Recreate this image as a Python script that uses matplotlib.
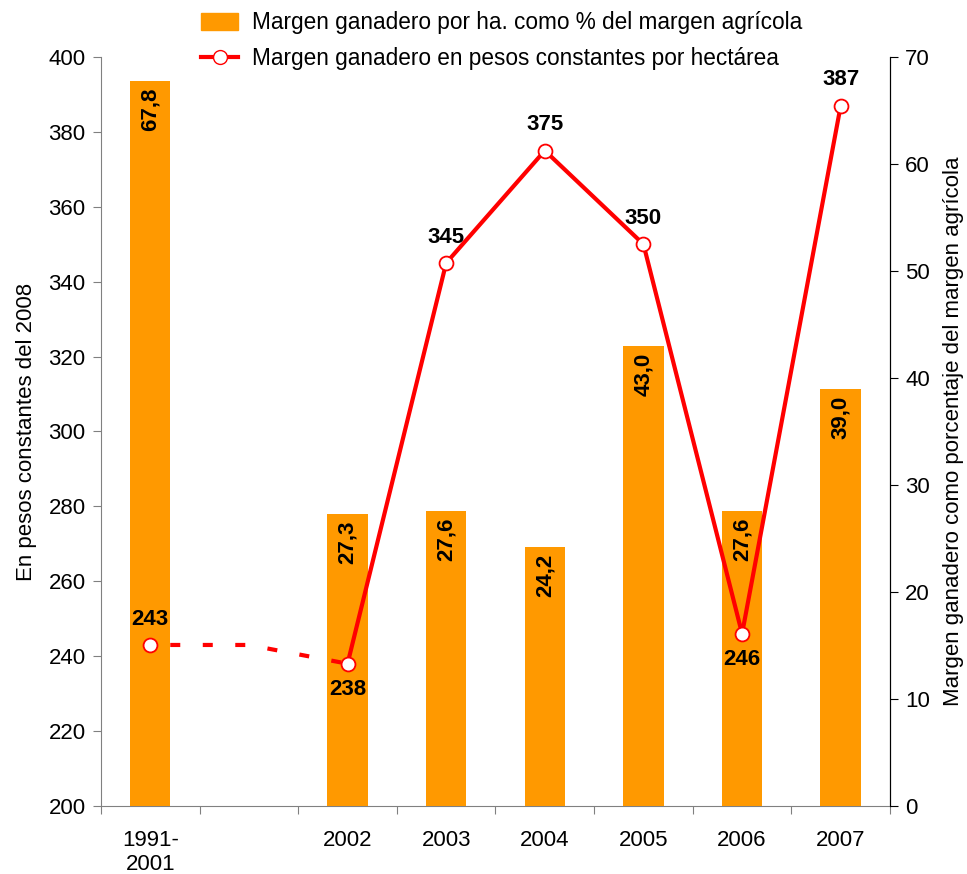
import numpy as np
import matplotlib
matplotlib.use("Agg")
import matplotlib.pyplot as plt
from matplotlib.lines import Line2D
from matplotlib.patches import Patch

plt.rcParams['font.family'] = ['Liberation Sans', 'DejaVu Sans']

# data
categories = ['1991-\n2001', '', '2002', '2003', '2004', '2005', '2006', '2007']
pct_values = [67.8, np.nan, 27.3, 27.6, 24.2, 43.0, 27.6, 39.0]
pct_labels = ['67,8', '', '27,3', '27,6', '24,2', '43,0', '27,6', '39,0']
pesos_values = [243, 243, 238, 345, 375, 350, 246, 387]
pesos_marked = [True, False, True, True, True, True, True, True]
label_above = [True, False, False, True, True, True, False, True]

bar_color = '#FF9900'
line_color = '#FF0000'
fs = 16

fig = plt.figure(figsize=(9.67, 8.74), dpi=100)
ax = fig.add_axes([0.1044, 0.0778, 0.8160, 0.8570])
ax2 = ax.twinx()

x = np.arange(len(categories))

# bars on the right axis
ax2.bar(x, pct_values, width=0.41, color=bar_color, zorder=1)
for xi, v, lab in zip(x, pct_values, pct_labels):
    if not lab:
        continue
    ax2.annotate(lab, (xi, v), xytext=(0, -5), textcoords='offset points',
                 rotation=90, ha='center', va='top', fontsize=fs,
                 fontweight='bold', zorder=5)
ax2.set_ylim(0, 70)
ax2.set_yticks(np.arange(0, 71, 10))

# line values belong to the left axis; map them onto ax2 so they sit over the bars
pes = np.array(pesos_values, dtype=float)
to_right = lambda v: (v - 200) / 200 * 70
ax2.plot(x[:3], to_right(pes[:3]), color=line_color, lw=3, ls=(3, (2.4, 5.4)),
         zorder=3)
ax2.plot(x[2:], to_right(pes[2:]), color=line_color, lw=3, zorder=3)
mk = np.array(pesos_marked)
ax2.plot(x[mk], to_right(pes[mk]), ls='none', marker='o', ms=10,
         mfc='white', mec=line_color, mew=1.3, zorder=4)
for xi, v, m, up in zip(x, pes, pesos_marked, label_above):
    if not m:
        continue
    ax2.annotate(f'{int(v)}', (xi, to_right(v)), xytext=(0, 11 if up else -11),
                 textcoords='offset points', ha='center',
                 va='bottom' if up else 'top', fontsize=fs, fontweight='bold',
                 zorder=5)

ax.set_ylim(200, 400)
ax.set_yticks(np.arange(200, 401, 20))
ax.set_xlim(-0.5, len(categories) - 0.5)
ax.set_xticks(np.arange(-0.5, len(categories), 1))
ax.set_xticklabels([])
ax.set_xticks(x, minor=True)
ax.set_xticklabels(categories, minor=True)
ax.tick_params(axis='x', which='minor', length=0, pad=17, labelsize=fs)
ax.tick_params(axis='x', which='major', length=6, direction='out')
ax.tick_params(axis='y', labelsize=fs, length=6, direction='out', pad=5)
ax2.tick_params(axis='y', labelsize=fs, length=6, direction='out', pad=5)

for a in (ax, ax2):
    a.spines['top'].set_visible(False)
ax.spines['left'].set_color('#808080')
ax.spines['bottom'].set_color('#808080')
ax2.spines['left'].set_visible(False)
ax2.spines['bottom'].set_visible(False)
ax.tick_params(axis='y', color='#808080')
ax.tick_params(axis='x', which='major', color='#808080')

ax.set_ylabel('En pesos constantes del 2008', fontsize=fs, labelpad=8)
ax2.set_ylabel('Margen ganadero como porcentaje del margen agrícola',
               fontsize=fs, labelpad=9)

handles = [Patch(color=bar_color),
           Line2D([0], [0], color=line_color, lw=3, marker='o', ms=10,
                  mfc='white', mec=line_color)]
names = ['Margen ganadero por ha. como % del margen agrícola',
         'Margen ganadero en pesos constantes por hectárea']
fig.legend(handles, names, loc='upper left', bbox_to_anchor=(0.208, 0.987),
           borderaxespad=0, borderpad=0, frameon=False, fontsize=fs + 0.3,
           handlelength=1.65, handleheight=0.8, handletextpad=0.6,
           labelspacing=0.55)

fig.savefig('out.png', dpi=100)
